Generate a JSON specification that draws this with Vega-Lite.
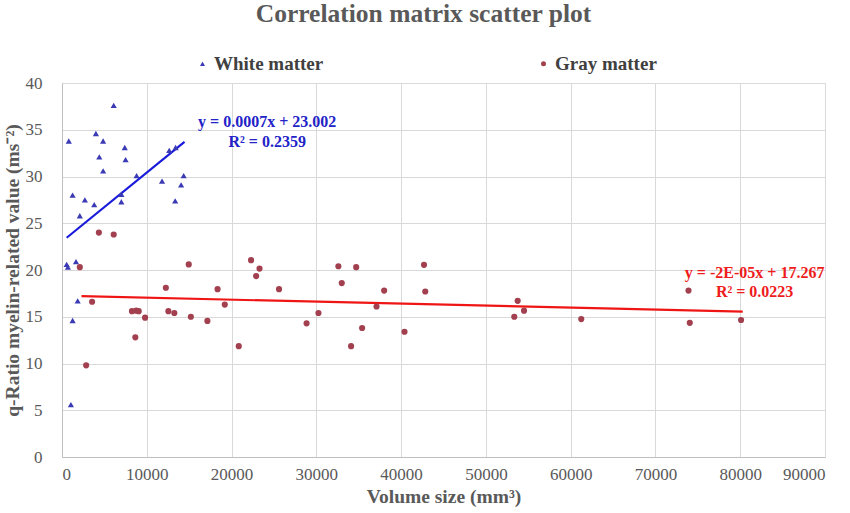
{
  "$schema": "https://vega.github.io/schema/vega-lite/v6.json",
  "width": 763,
  "height": 374,
  "autosize": {"type": "none"},
  "padding": {"left": 62, "top": 83, "right": 25, "bottom": 56},
  "background": "white",
  "title": {
    "text": "Correlation  matrix  scatter plot",
    "font": "Liberation Serif",
    "fontSize": 25.5,
    "fontWeight": "bold",
    "color": "#595959",
    "anchor": "middle",
    "dx": -20,
    "offset": 27
  },
  "config": {
    "view": {"stroke": "#D9D9D9"},
    "axis": {
      "labelFont": "Liberation Serif",
      "labelFontSize": 17,
      "labelColor": "#595959",
      "titleFont": "Liberation Serif",
      "titleFontWeight": "bold",
      "titleColor": "#595959",
      "gridColor": "#D9D9D9",
      "domainColor": "#BFBFBF",
      "ticks": false
    },
    "legend": {
      "labelFont": "Liberation Serif",
      "labelFontSize": 19,
      "labelFontWeight": "bold",
      "labelColor": "#404040"
    }
  },
  "datasets": {
    "points": [
      {"matter": "White matter", "volume": 6100, "qratio": 37.6},
      {"matter": "White matter", "volume": 4000, "qratio": 34.6},
      {"matter": "White matter", "volume": 800, "qratio": 33.8},
      {"matter": "White matter", "volume": 4850, "qratio": 33.8},
      {"matter": "White matter", "volume": 7400, "qratio": 33.1},
      {"matter": "White matter", "volume": 4400, "qratio": 32.1},
      {"matter": "White matter", "volume": 7500, "qratio": 31.8},
      {"matter": "White matter", "volume": 4850, "qratio": 30.6},
      {"matter": "White matter", "volume": 8800, "qratio": 30.1},
      {"matter": "White matter", "volume": 12650, "qratio": 32.8},
      {"matter": "White matter", "volume": 13400, "qratio": 33.1},
      {"matter": "White matter", "volume": 14350, "qratio": 30.1},
      {"matter": "White matter", "volume": 14050, "qratio": 29.1},
      {"matter": "White matter", "volume": 11800, "qratio": 29.5},
      {"matter": "White matter", "volume": 13350, "qratio": 27.4},
      {"matter": "White matter", "volume": 1250, "qratio": 28.0},
      {"matter": "White matter", "volume": 2700, "qratio": 27.5},
      {"matter": "White matter", "volume": 3800, "qratio": 27.0},
      {"matter": "White matter", "volume": 7000, "qratio": 27.3},
      {"matter": "White matter", "volume": 7000, "qratio": 28.1},
      {"matter": "White matter", "volume": 2100, "qratio": 25.8},
      {"matter": "White matter", "volume": 550, "qratio": 20.6},
      {"matter": "White matter", "volume": 700, "qratio": 20.3},
      {"matter": "White matter", "volume": 1650, "qratio": 20.9},
      {"matter": "White matter", "volume": 1850, "qratio": 16.7},
      {"matter": "White matter", "volume": 1250, "qratio": 14.6},
      {"matter": "White matter", "volume": 1050, "qratio": 5.6},
      {"matter": "Gray matter", "volume": 4350, "qratio": 24.0},
      {"matter": "Gray matter", "volume": 6100, "qratio": 23.8},
      {"matter": "Gray matter", "volume": 14950, "qratio": 20.6},
      {"matter": "Gray matter", "volume": 2100, "qratio": 20.3},
      {"matter": "Gray matter", "volume": 12250, "qratio": 18.1},
      {"matter": "Gray matter", "volume": 3550, "qratio": 16.6},
      {"matter": "Gray matter", "volume": 8250, "qratio": 15.6},
      {"matter": "Gray matter", "volume": 8750, "qratio": 15.65},
      {"matter": "Gray matter", "volume": 9050, "qratio": 15.6},
      {"matter": "Gray matter", "volume": 9800, "qratio": 14.9},
      {"matter": "Gray matter", "volume": 12550, "qratio": 15.6},
      {"matter": "Gray matter", "volume": 13250, "qratio": 15.4},
      {"matter": "Gray matter", "volume": 15200, "qratio": 15.0},
      {"matter": "Gray matter", "volume": 17150, "qratio": 14.55},
      {"matter": "Gray matter", "volume": 8650, "qratio": 12.8},
      {"matter": "Gray matter", "volume": 2850, "qratio": 9.8},
      {"matter": "Gray matter", "volume": 22300, "qratio": 21.05},
      {"matter": "Gray matter", "volume": 23300, "qratio": 20.15},
      {"matter": "Gray matter", "volume": 22900, "qratio": 19.35},
      {"matter": "Gray matter", "volume": 18350, "qratio": 17.95},
      {"matter": "Gray matter", "volume": 25600, "qratio": 17.95},
      {"matter": "Gray matter", "volume": 19200, "qratio": 16.3},
      {"matter": "Gray matter", "volume": 20850, "qratio": 11.85},
      {"matter": "Gray matter", "volume": 28850, "qratio": 14.3},
      {"matter": "Gray matter", "volume": 30250, "qratio": 15.4},
      {"matter": "Gray matter", "volume": 32600, "qratio": 20.4},
      {"matter": "Gray matter", "volume": 34700, "qratio": 20.3},
      {"matter": "Gray matter", "volume": 33000, "qratio": 18.6},
      {"matter": "Gray matter", "volume": 38000, "qratio": 17.8},
      {"matter": "Gray matter", "volume": 37100, "qratio": 16.1},
      {"matter": "Gray matter", "volume": 35400, "qratio": 13.8},
      {"matter": "Gray matter", "volume": 34100, "qratio": 11.85},
      {"matter": "Gray matter", "volume": 40400, "qratio": 13.4},
      {"matter": "Gray matter", "volume": 42700, "qratio": 20.55},
      {"matter": "Gray matter", "volume": 42850, "qratio": 17.7},
      {"matter": "Gray matter", "volume": 53750, "qratio": 16.7},
      {"matter": "Gray matter", "volume": 54500, "qratio": 15.65},
      {"matter": "Gray matter", "volume": 53350, "qratio": 15.0},
      {"matter": "Gray matter", "volume": 61250, "qratio": 14.75},
      {"matter": "Gray matter", "volume": 73900, "qratio": 17.8},
      {"matter": "Gray matter", "volume": 74050, "qratio": 14.35},
      {"matter": "Gray matter", "volume": 80100, "qratio": 14.65}
    ],
    "trend": [
      {"matter": "White matter", "volume": 550, "qratio": 23.45},
      {"matter": "White matter", "volume": 14450, "qratio": 33.7},
      {"matter": "Gray matter", "volume": 2300, "qratio": 17.2},
      {"matter": "Gray matter", "volume": 80300, "qratio": 15.55}
    ],
    "equations": [
      {"matter": "White matter", "volume": 24200, "qratio": 35.8, "label": "y = 0.0007x + 23.002"},
      {"matter": "White matter", "volume": 24200, "qratio": 33.7, "label": "R² = 0.2359"},
      {"matter": "Gray matter", "volume": 81700, "qratio": 19.7, "label": "y = -2E-05x + 17.267"},
      {"matter": "Gray matter", "volume": 81700, "qratio": 17.65, "label": "R² = 0.0223"}
    ]
  },
  "encoding": {
    "x": {
      "field": "volume",
      "type": "quantitative",
      "scale": {"domain": [0, 90000], "nice": false},
      "axis": {
        "title": "Volume size (mm³)",
        "titleFontSize": 19.5,
        "values": [0, 10000, 20000, 30000, 40000, 50000, 60000, 70000, 80000, 90000],
        "format": "d",
        "labelPadding": 9,
        "titlePadding": 5
      }
    },
    "y": {
      "field": "qratio",
      "type": "quantitative",
      "scale": {"domain": [0, 40], "nice": false},
      "axis": {
        "title": "q-Ratio myelin-related value (ms⁻²)",
        "titleFontSize": 19.5,
        "values": [0, 5, 10, 15, 20, 25, 30, 35, 40],
        "labelPadding": 20,
        "titlePadding": 3
      }
    }
  },
  "layer": [
    {
      "data": {"name": "trend"},
      "transform": [{"filter": "datum.matter === 'White matter'"}],
      "mark": {"type": "line", "strokeWidth": 2.2, "color": "#1A1ADB"},
      "encoding": {}
    },
    {
      "data": {"name": "trend"},
      "transform": [{"filter": "datum.matter === 'Gray matter'"}],
      "mark": {"type": "line", "strokeWidth": 2.2, "color": "#F01515"},
      "encoding": {}
    },
    {
      "data": {"name": "points"},
      "mark": {"type": "point", "filled": true, "opacity": 1, "size": 38},
      "encoding": {
        "color": {
          "field": "matter",
          "type": "nominal",
          "scale": {"domain": ["White matter", "Gray matter"], "range": ["#3A3AB5", "#A3404F"]},
          "legend": {
            "title": null,
            "orient": "none",
            "direction": "horizontal",
            "legendX": 131,
            "legendY": -29,
            "columns": 2,
            "columnPadding": 210,
            "symbolSize": 25,
            "labelOffset": 2,
            "padding": 0
          }
        },
        "shape": {
          "field": "matter",
          "type": "nominal",
          "scale": {"domain": ["White matter", "Gray matter"], "range": ["triangle-up", "circle"]}
        }
      }
    },
    {
      "data": {"name": "equations"},
      "transform": [{"filter": "datum.matter === 'White matter'"}],
      "mark": {"type": "text", "font": "Liberation Serif", "fontSize": 16, "fontWeight": "bold", "align": "center", "baseline": "middle", "color": "#2323C8"},
      "encoding": {"text": {"field": "label"}}
    },
    {
      "data": {"name": "equations"},
      "transform": [{"filter": "datum.matter === 'Gray matter'"}],
      "mark": {"type": "text", "font": "Liberation Serif", "fontSize": 16, "fontWeight": "bold", "align": "center", "baseline": "middle", "color": "#EE1C1C"},
      "encoding": {"text": {"field": "label"}}
    }
  ]
}
